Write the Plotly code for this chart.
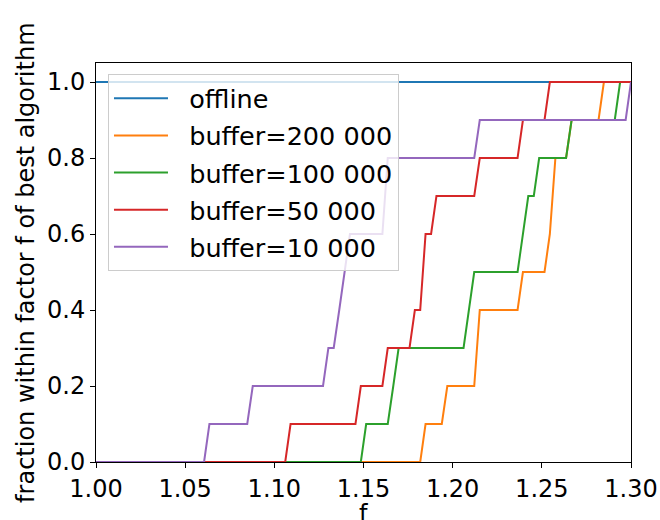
import plotly.graph_objects as go

# polyline vertices (x = factor f, y = fraction)
offline_x = [1.0, 1.3]
offline_y = [1.0, 1.0]

buf200k_x = [1.0, 1.1818, 1.1848, 1.1939, 1.1970, 1.2121, 1.2152, 1.2364, 1.2394, 1.2515, 1.2545, 1.2576, 1.2636, 1.2667, 1.2818, 1.2848, 1.3]
buf200k_y = [0.0, 0.0, 0.1, 0.1, 0.2, 0.2, 0.4, 0.4, 0.5, 0.5, 0.6, 0.8, 0.8, 0.9, 0.9, 1.0, 1.0]

buf100k_x = [1.0, 1.1485, 1.1515, 1.1636, 1.1667, 1.1697, 1.2061, 1.2091, 1.2121, 1.2364, 1.2394, 1.2424, 1.2455, 1.2485, 1.2636, 1.2667, 1.2909, 1.2939, 1.3]
buf100k_y = [0.0, 0.0, 0.1, 0.1, 0.2, 0.3, 0.3, 0.4, 0.5, 0.5, 0.6, 0.7, 0.7, 0.8, 0.8, 0.9, 0.9, 1.0, 1.0]

buf50k_x = [1.0, 1.1061, 1.1091, 1.1455, 1.1485, 1.1606, 1.1636, 1.1758, 1.1788, 1.1818, 1.1848, 1.1879, 1.1909, 1.2121, 1.2152, 1.2364, 1.2394, 1.2515, 1.2545, 1.3]
buf50k_y = [0.0, 0.0, 0.1, 0.1, 0.2, 0.2, 0.3, 0.3, 0.4, 0.4, 0.6, 0.6, 0.7, 0.7, 0.8, 0.8, 0.9, 0.9, 1.0, 1.0]

buf10k_x = [1.0, 1.0606, 1.0636, 1.0848, 1.0879, 1.1273, 1.1303, 1.1333, 1.1364, 1.1394, 1.1424, 1.1606, 1.1636, 1.2121, 1.2152, 1.2970, 1.3]
buf10k_y = [0.0, 0.0, 0.1, 0.1, 0.2, 0.2, 0.3, 0.3, 0.4, 0.5, 0.6, 0.6, 0.8, 0.8, 0.9, 0.9, 1.0]

series_names = ["offline", "buffer=200 000", "buffer=100 000", "buffer=50 000", "buffer=10 000"]
series_x = [offline_x, buf200k_x, buf100k_x, buf50k_x, buf10k_x]
series_y = [offline_y, buf200k_y, buf100k_y, buf50k_y, buf10k_y]
colors = ["#1f77b4", "#ff7f0e", "#2ca02c", "#d62728", "#9467bd"]

x_ticks = [1.00, 1.05, 1.10, 1.15, 1.20, 1.25, 1.30]
y_ticks = [0.0, 0.2, 0.4, 0.6, 0.8, 1.0]
x_title = "f"
y_title = "fraction within factor f of best algorithm"

FONT = "DejaVu Sans"
fig = go.Figure()
for i, (name, xs, ys, c) in enumerate(zip(series_names, series_x, series_y, colors)):
    fig.add_trace(go.Scatter(x=xs, y=ys, mode="lines", name="\u00a0\u00a0" + name,
                             legendgroup=f"g{i}",
                             line=dict(color=c, width=2)))

fig.update_layout(
    width=660, height=520,
    margin=dict(l=96, r=29, t=63, b=58, autoexpand=False),
    plot_bgcolor="white", paper_bgcolor="white",
    font=dict(family=FONT, size=24, color="black"),
    showlegend=True,
    legend=dict(x=0.0224, y=0.972, xanchor="left", yanchor="top",
                bgcolor="rgba(255,255,255,0.8)", bordercolor="#cccccc", borderwidth=1,
                font=dict(family=FONT, size=25.5), itemwidth=54,
                tracegroupgap=1, traceorder="grouped"),
    annotations=[
        dict(text=x_title, xref="paper", yref="paper", x=0.5, y=-0.131,
             xanchor="center", yanchor="middle", showarrow=False,
             font=dict(family=FONT, size=24)),
        dict(text=y_title, xref="paper", yref="paper", x=-0.132, y=0.5,
             xanchor="center", yanchor="middle", textangle=-90, showarrow=False,
             font=dict(family=FONT, size=24)),
    ],
)
fig.update_xaxes(range=[1.0, 1.3], tickvals=x_ticks, tickformat=".2f",
                 showgrid=False, zeroline=False, showline=True, mirror=True,
                 linecolor="black", linewidth=1, ticks="outside", ticklen=5,
                 tickcolor="black", tickfont=dict(size=24), automargin=False)
fig.update_yaxes(range=[0, 1.05], tickvals=y_ticks, tickformat=".1f",
                 showgrid=False, zeroline=False, showline=True, mirror=True,
                 linecolor="black", linewidth=1, ticks="outside", ticklen=5,
                 tickcolor="black", tickfont=dict(size=24), automargin=False)

fig.write_html("out.html")
